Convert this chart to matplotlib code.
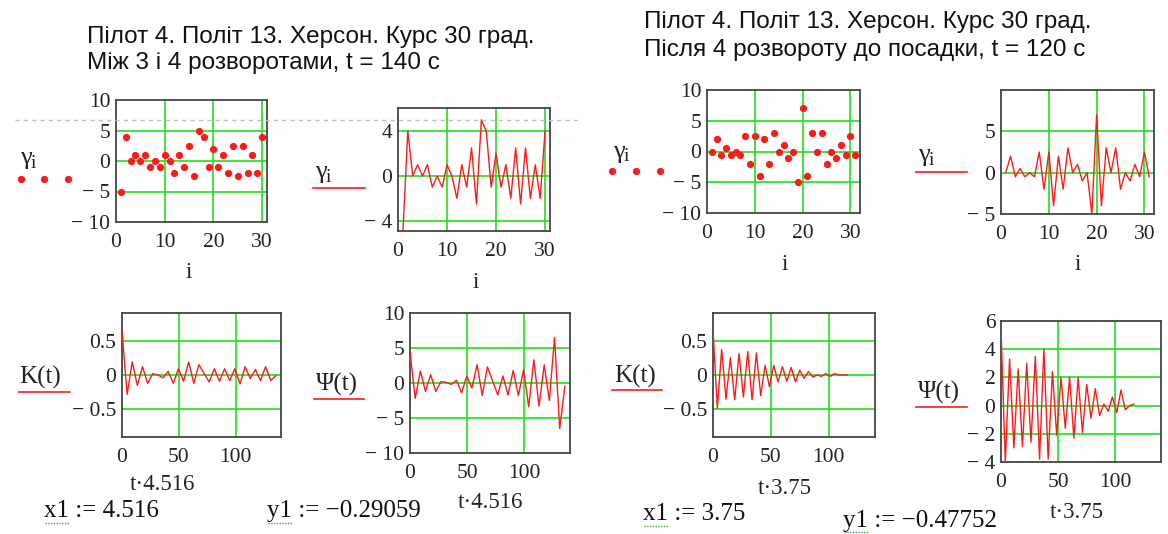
import numpy as np
import matplotlib
matplotlib.use('Agg')
import matplotlib.pyplot as plt
from matplotlib.lines import Line2D

# --- data ---
# left flight segment (between turns 3 and 4), x1 = 4.516
i_left = np.arange(1, 31)
gamma_left = [-5, 4, 0, 1, 0, 1, -1, 0, -1, 1, 0, -2, 1, -1, 2.5, -2.5, 5, 4,
              -1, 2, -1, 1, -2, 2.5, -2.5, 2.5, -2, 1, -2, 4]
x1_left = 4.516
t_left = np.arange(31)
K_left = [0.64, -0.28, 0.19, -0.15, 0.12, -0.12, 0.02, 0.0, -0.04, 0.05, -0.12,
          0.09, -0.09, 0.19, -0.12, 0.15, 0.02, -0.10, 0.09, -0.09, 0.09, -0.08,
          0.09, -0.13, 0.12, -0.05, 0.08, -0.08, 0.12, -0.08, -0.01]
Psi_left = [4.5, -2.2, 1.7, -1.2, 1.2, -1.2, 0.2, 0.1, -0.2, 0.4, -1.4, 1.0, -0.7,
            2.6, -1.8, 2.3, 0.3, -1.7, 1.0, -1.7, 1.8, -1.8, 1.9, -3.4, 3.3, -3.3,
            2.6, -2.5, 6.5, -6.5, -0.5]

# right flight segment (after turn 4 to landing), x1 = 3.75
i_right = np.arange(1, 32)
gamma_right = [0, 2, -0.5, 0.5, -0.5, 0, -0.5, 2.5, -2, 2.5, -4, 2, -2, 3, 0, 1,
               -1, 0, -5, 7, -4, 3, 0, 3, -2, 0, -1, 1, -0.5, 2.5, -0.5]
x1_right = 3.75
t_right = np.arange(32)
K_right = [0.66, -0.48, 0.37, -0.35, 0.25, -0.36, 0.31, -0.32, 0.34, -0.36, 0.32,
           -0.30, 0.14, -0.17, 0.14, -0.10, 0.12, -0.09, 0.11, -0.10, 0.07, -0.05,
           0.05, -0.03, 0.0, -0.02, 0.02, -0.02, 0.02, 0.0, 0.0, 0.0]
Psi_right = [5.5, -4.0, 3.3, -3.0, 2.6, -2.9, 3.0, -2.6, 3.5, -3.8, 4.0, -3.8, 2.4,
             -2.1, 2.0, -1.6, 2.0, -2.3, 2.0, -1.9, 1.5, -0.9, 1.2, -0.7, 0.1, -0.4,
             0.6, -0.5, 1.1, -0.3, 0.0, 0.1]

W, H = 1168, 534
fig = plt.figure(figsize=(W / 100, H / 100), dpi=100)

RED = '#ff1a1a'
GREEN = '#1ee01e'
SERIF = ['Liberation Serif', 'DejaVu Serif']
SANS = ['Liberation Sans', 'DejaVu Sans']


def lab(v):
    s = ('%g' % abs(v))
    return ('\u2212 ' + s) if v < 0 else s


def panel(l, t, r, b, xlim, ylim, xt, yt, xgrid, ygrid):
    ax = fig.add_axes([l / W, 1 - b / H, (r - l) / W, (b - t) / H])
    ax.set_xlim(*xlim)
    ax.set_ylim(*ylim)
    for g in xgrid:
        ax.axvline(g, color=GREEN, lw=1.2, zorder=1)
    for g in ygrid:
        ax.axhline(g, color=GREEN, lw=1.2, zorder=1)
    ax.set_xticks(xt)
    ax.set_xticklabels([lab(v) for v in xt], fontfamily=SERIF, fontsize=15.5)
    ax.set_yticks(yt)
    ax.set_yticklabels([lab(v) for v in yt], fontfamily=SERIF, fontsize=15.5)
    ax.tick_params(length=0, pad=4, colors='#222222')
    ax.tick_params(axis='x', pad=8)
    for s in ax.spines.values():
        s.set_color('#444444')
        s.set_linewidth(1.3)
    return ax


def ftext(x, y, s, **kw):
    fig.text(x / W, 1 - y / H, s, **kw)


def fline(x0, x1, y, **kw):
    fig.add_artist(Line2D([x0 / W, x1 / W], [1 - y / H, 1 - y / H], **kw))


def gamma_label(x, y):
    ftext(x, y, '\u03b3', fontfamily=SERIF, fontsize=19, color='#222222',
          va='center', ha='left')
    ftext(x + 11, y + 5, 'i', fontfamily=SERIF, fontsize=14, color='#222222',
          va='center', ha='left')


# --- top row: gamma_i ---
ax = panel(116, 100, 267, 222, (0, 31), (-10, 10), [0, 10, 20, 30],
           [-10, -5, 0, 5, 10], [10, 20, 30], [-5, 0, 5])
ax.plot(i_left, gamma_left, 'o', color=RED, ms=4.2, zorder=3)

ax = panel(398, 108, 550, 231, (0, 31), (-4.9, 6.05), [0, 10, 20, 30],
           [-4, 0, 4], [10, 20, 30], [-4, 0, 4])
ax.plot(i_left, gamma_left, '-', color=RED, lw=1.0, zorder=3)

ax = panel(707, 90, 860, 213, (0, 32), (-10, 10), [0, 10, 20, 30],
           [-10, -5, 0, 5, 10], [10, 20, 30], [-5, 0, 5])
ax.plot(i_right, gamma_right, 'o', color=RED, ms=4.2, zorder=3)

ax = panel(1001, 90, 1154, 214, (0, 32), (-5, 10), [0, 10, 20, 30],
           [-5, 0, 5], [10, 20, 30], [0, 5])
ax.plot(i_right, gamma_right, '-', color=RED, lw=1.0, zorder=3)

# --- bottom row: K(t), Psi(t) ---
ax = panel(122, 313, 281, 437, (0, 140), (-0.9, 0.9), [0, 50, 100],
           [-0.5, 0, 0.5], [50, 100], [-0.5, 0, 0.5])
ax.plot(t_left * x1_left, K_left, '-', color=RED, lw=1.0, zorder=3)

ax = panel(410, 313, 570, 453, (0, 140), (-10, 10), [0, 50, 100],
           [-10, -5, 0, 5, 10], [50, 100], [-5, 0, 5])
ax.plot(t_left * x1_left, Psi_left, '-', color=RED, lw=1.0, zorder=3)

ax = panel(713, 313, 875, 437, (0, 140), (-0.9, 0.9), [0, 50, 100],
           [-0.5, 0, 0.5], [50, 100], [-0.5, 0, 0.5])
ax.plot(t_right * x1_right, K_right, '-', color=RED, lw=1.0, zorder=3)

ax = panel(1001, 321, 1161, 462, (0, 140), (-4, 6), [0, 50, 100],
           [-4, -2, 0, 2, 4, 6], [50, 100], [-2, 0, 2, 4])
ax.plot(t_right * x1_right, Psi_right, '-', color=RED, lw=1.0, zorder=3)

# --- titles ---
tk = dict(fontfamily=SANS, fontsize=17.5, color='#111111', va='center', ha='left')
ftext(87, 37, 'Пілот 4. Політ 13. Херсон. Курс 30 град.', **tk)
ftext(87, 63, 'Між 3 і 4 розворотами, t = 140 с', **tk)
ftext(644, 22, 'Пілот 4. Політ 13. Херсон. Курс 30 град.', **tk)
ftext(644, 50, 'Після 4 розвороту до посадки, t = 120 с', **tk)

# dashed page guide line
fline(15, 580, 120, color='#c0c0c0', lw=1.0, ls=(0, (3, 3)))

# --- y labels ---
gamma_label(20, 158)
gamma_label(613, 152)
gamma_label(315, 172)
gamma_label(918, 155)
for x in (21, 44, 68):
    fig.add_artist(Line2D([x / W], [1 - 179 / H], marker='o', ms=4.2, color=RED))
for x in (612, 636, 660):
    fig.add_artist(Line2D([x / W], [1 - 171 / H], marker='o', ms=4.2, color=RED))
fline(313, 365, 188, color=RED, lw=1.2)
fline(916, 967, 172, color=RED, lw=1.2)

sk = dict(fontfamily=SERIF, fontsize=18, color='#222222', va='center', ha='left')
ftext(19, 377, 'K(t)', **sk)
fline(19, 70, 392, color=RED, lw=1.2)
ftext(614, 376, 'K(t)', **sk)
fline(612, 662, 390, color=RED, lw=1.2)
ftext(316, 384, '\u03a8(t)', **sk)
fline(314, 364, 399, color=RED, lw=1.2)
ftext(918, 392, '\u03a8(t)', **sk)
fline(916, 967, 407, color=RED, lw=1.2)

# --- x labels ---
xk = dict(fontfamily=SERIF, fontsize=16.5, color='#222222', va='center', ha='center')
ftext(189, 272, 'i', **xk)
ftext(476, 282, 'i', **xk)
ftext(785, 264, 'i', **xk)
ftext(1078, 265, 'i', **xk)
ftext(162, 485, 't\u00b74.516', **xk)
ftext(490, 503, 't\u00b74.516', **xk)
ftext(785, 489, 't\u00b73.75', **xk)
ftext(1077, 513, 't\u00b73.75', **xk)

# --- bottom assignments ---
ak = dict(fontfamily=SERIF, fontsize=18, color='#111111', va='center', ha='left')
ftext(44, 511, 'x1 := 4.516', **ak)
ftext(267, 511, 'y1 := \u22120.29059', **ak)
ftext(643, 514, 'x1 := 3.75', **ak)
ftext(843, 521, 'y1 := \u22120.47752', **ak)
for x0, y0 in ((45, 523), (268, 523), (644, 526), (844, 532)):
    fline(x0, x0 + 24, y0, color='#3aa83a', lw=1.0, ls=(0, (1, 1)))

fig.savefig('out.png', dpi=100)
